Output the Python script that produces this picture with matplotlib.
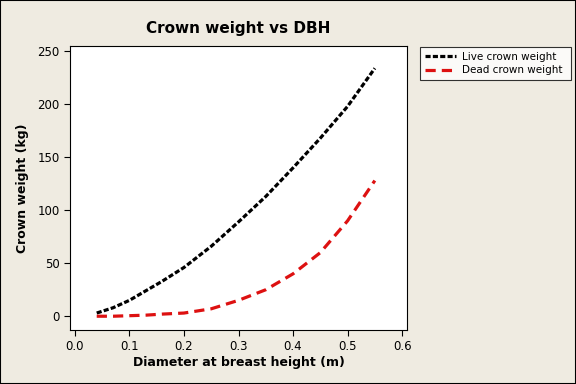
import matplotlib.pyplot as plt

dbh = [0.04, 0.07, 0.10, 0.13, 0.16, 0.20, 0.25, 0.30, 0.35, 0.40, 0.45, 0.50, 0.55]
live = [3, 8, 15, 24, 33, 46, 66, 89, 113, 140, 168, 198, 234]
dead = [0, 0, 0.5, 1, 2, 3, 7, 15, 25, 40, 60, 90, 128]

bg = '#efebe1'
fig = plt.figure(figsize=(5.76, 3.84), dpi=100, facecolor=bg)
fig.patches.append(plt.Rectangle((0, 0), 1, 1, transform=fig.transFigure,
                                 fill=False, edgecolor='black', lw=1.5))
ax = fig.add_axes([70/576, 1 - 330/384, 337/576, 284/384])
ax.set_facecolor('white')

ax.plot(dbh, live, color='black', ls=(0, (1.6, 0.7)), lw=2.3, label='Live crown weight')
ax.plot(dbh, dead, color='#dd1111', ls=(0, (3.2, 1.9)), lw=2.3, label='Dead crown weight')

ax.set_xlim(-0.009, 0.609)
ax.set_ylim(-13, 255)
ax.set_xticks([0.0, 0.1, 0.2, 0.3, 0.4, 0.5, 0.6])
ax.set_xticklabels(['0.0', '0.1', '0.2', '0.3', '0.4', '0.5', '0.6'])
ax.set_yticks([0, 50, 100, 150, 200, 250])
ax.tick_params(labelsize=8.5, length=4, width=0.8)
for s in ax.spines.values():
    s.set_linewidth(0.8)

ax.set_xlabel('Diameter at breast height (m)', fontsize=9, fontweight='bold', labelpad=2)
ax.set_ylabel('Crown weight (kg)', fontsize=9, fontweight='bold', labelpad=6)
fig.text(238/576, 1 - 28/384, 'Crown weight vs DBH', fontsize=11, fontweight='bold',
         ha='center', va='center')

leg = fig.legend(loc='upper left', bbox_to_anchor=(420/576, 1 - 47/384 - 0.08, 151/576, 0.08),
                 mode='expand', fontsize=7.5, frameon=True, fancybox=False,
                 edgecolor='black', handlelength=3.0, handletextpad=0.6,
                 borderpad=0.45, labelspacing=0.35, borderaxespad=0)
leg.get_frame().set_linewidth(0.8)

fig.savefig('out.png', dpi=100, facecolor=bg)
